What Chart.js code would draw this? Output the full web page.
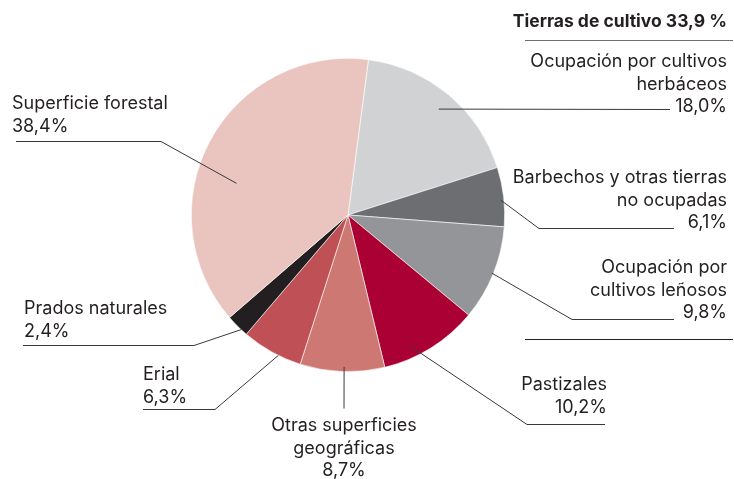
<!DOCTYPE html>
<html lang="es">
<head>
  <meta charset="UTF-8" />
  <title>Superficie por usos</title>
  <script src="https://cdn.jsdelivr.net/npm/chart.js"></script>
  <style>
    body { margin: 0; background: #fff; }
  </style>
</head>
<body>
  <canvas id="usosChart" width="734" height="479"></canvas>

  <script>
    // datos (porcentajes), en sentido horario desde arriba
    const categorias = [
      'Ocupación por cultivos herbáceos',
      'Barbechos y otras tierras no ocupadas',
      'Ocupación por cultivos leñosos',
      'Pastizales',
      'Otras superficies geográficas',
      'Erial',
      'Prados naturales',
      'Superficie forestal'
    ];
    const valores = [18.0, 6.1, 9.8, 10.2, 8.7, 6.3, 2.4, 38.4];
    const colores = ['#d1d2d4', '#6d6e71', '#939598', '#ab0033', '#cd7873', '#bf5055', '#231f20', '#eac5c0'];
    const tituloGrupo = 'Tierras de cultivo 33,9 %';

    const fmt = v => v.toFixed(1).replace('.', ',') + '%';

    // etiquetas: lineas de texto, alineacion, posicion y recorrido de la linea guia
    // at = [fraccion del angulo del sector, fraccion del radio]
    const etiquetas = [
      { lines: ['Ocupación por cultivos', 'herbáceos'], align: 'right', x: 727, y: 62, at: [0.51, 0.89], path: [[670, 109]] },
      { lines: ['Barbechos y otras tierras', 'no ocupadas'], align: 'right', x: 727, y: 178, at: [0.55, 0.98], path: [[539, 228], [674, 228]] },
      { lines: ['Ocupación por', 'cultivos leñosos'], align: 'right', x: 727, y: 268, at: [0.50, 0.99], path: [[572, 319], [674, 319]] },
      { lines: ['Pastizales'], align: 'right', x: 607, y: 385, at: [0.685, 0.92], path: [[527, 424], [605, 424]] },
      { lines: ['Otras superficies', 'geográficas'], align: 'center', x: 344, y: 426, at: [0.48, 0.97], path: [[344, 408]] },
      { lines: ['Erial'], align: 'left', x: 143, y: 375, at: [0.38, 1.0], path: [[215, 409], [143, 409]] },
      { lines: ['Prados naturales'], align: 'left', x: 24, y: 309, at: [0.29, 1.0], path: [[194, 345], [23, 345]] },
      { lines: ['Superficie forestal'], align: 'left', x: 12, y: 104, at: [0.41, 0.74], path: [[161, 141], [16, 141]] }
    ];

    const textColor = '#231f20';
    const fuente = '18px Inter, "Liberation Sans", sans-serif';

    const etiquetasPlugin = {
      id: 'etiquetas',
      afterDraw(chart) {
        const ctx = chart.ctx;
        const arcs = chart.getDatasetMeta(0).data;
        ctx.save();

        // lineas guia
        ctx.strokeStyle = '#3b3838';
        ctx.lineWidth = 1;
        etiquetas.forEach((et, i) => {
          const a = arcs[i];
          const ang = a.startAngle + (a.endAngle - a.startAngle) * et.at[0];
          const r = a.outerRadius * et.at[1];
          ctx.beginPath();
          ctx.moveTo(a.x + Math.cos(ang) * r, a.y + Math.sin(ang) * r);
          et.path.forEach(p => ctx.lineTo(p[0], p[1] + 0.5));
          ctx.stroke();
        });

        // lineas del grupo "Tierras de cultivo"
        ctx.strokeStyle = '#6d6e71';
        ctx.beginPath(); ctx.moveTo(525, 40.5); ctx.lineTo(733, 40.5); ctx.stroke();
        ctx.strokeStyle = '#231f20';
        ctx.beginPath(); ctx.moveTo(525, 339.5); ctx.lineTo(733, 339.5); ctx.stroke();

        // textos
        ctx.fillStyle = textColor;
        ctx.textBaseline = 'middle';
        ctx.font = 'bold 17.5px Inter, "Liberation Sans", sans-serif';
        ctx.textAlign = 'right';
        ctx.fillText(tituloGrupo, 727, 22);

        ctx.font = fuente;
        etiquetas.forEach((et, i) => {
          ctx.textAlign = et.align;
          const lineas = et.lines.concat([fmt(valores[i])]);
          lineas.forEach((t, k) => ctx.fillText(t, et.x, et.y + k * 22.5));
        });
        ctx.restore();
      }
    };

    new Chart(document.getElementById('usosChart'), {
      type: 'pie',
      data: {
        labels: categorias,
        datasets: [{
          data: valores,
          backgroundColor: colores,
          borderColor: '#ffffff',
          borderWidth: 0.6
        }]
      },
      options: {
        responsive: false,
        animation: false,
        rotation: 7.5,
        layout: { padding: { left: 191, right: 229, top: 58, bottom: 107 } },
        plugins: {
          legend: { display: false },
          tooltip: { enabled: false }
        }
      },
      plugins: [etiquetasPlugin]
    });
  </script>
</body>
</html>
